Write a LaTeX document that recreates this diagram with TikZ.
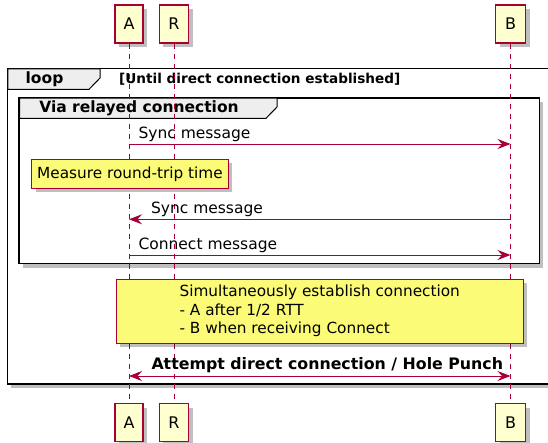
\documentclass[tikz,border=0pt]{standalone}
\usepackage{fontspec}
\setmainfont{DejaVu Sans}
\usepackage{xcolor}
\usepackage{tikz}
\usetikzlibrary{arrows.meta, shadows}
\definecolor{umlred}{HTML}{A80036}
\definecolor{umlbox}{HTML}{FEFECE}
\definecolor{umlnote}{HTML}{FBFB77}
\definecolor{umltab}{HTML}{EEEEEE}
\tikzset{
  umlshadow/.style={
    drop shadow={shadow xshift=4pt, shadow yshift=-4pt,
                 opacity=0.25, fill=black}
  },
  actorbox/.style={
    draw=umlred, fill=umlbox, line width=1.3pt, inner sep=0pt,
    minimum height=38pt, font=\fontsize{16}{18}\selectfont, umlshadow
  },
  lifeline/.style={
    draw=umlred, line width=1pt, dash pattern=on 5pt off 5pt
  },
  msgarrow/.style={
    draw=umlred, line width=1pt,
    -{Stealth[length=13pt, width=10pt, inset=4.5pt]}
  },
  msgboth/.style={
    draw=umlred, line width=1pt,
    {Stealth[length=13pt, width=10pt, inset=4.5pt]}-{Stealth[length=13pt, width=10pt, inset=4.5pt]}
  },
  msglabel/.style={
    font=\fontsize{15.5}{18}\selectfont, anchor=base west, inner sep=0pt
  },
  notebox/.style={
    draw=umlred, fill=umlnote, line width=1pt, inner sep=0pt,
    font=\fontsize{15.3}{18.3}\selectfont, umlshadow
  },
  framebox/.style={
    draw=black, fill=white, line width=1.6pt, umlshadow
  },
  frametab/.style={
    draw=black, fill=umltab, line width=1pt
  },
  framelabel/.style={
    font=\bfseries\fontsize{15.5}{18}\selectfont, inner sep=0pt
  },
  condlabel/.style={
    font=\bfseries\fontsize{13.6}{16}\selectfont, inner sep=0pt, anchor=west
  },
}

\begin{document}
\begin{tikzpicture}[x=1pt, y=-1pt]
  \useasboundingbox (0,0) rectangle (548,442);

  % ── Participants (top and bottom) ─────────────────────────────
  \foreach \n/\x/\w in {A/129/28, R/174/29.5, B/510.5/30} {
    \node[actorbox, minimum width=\w pt] (\n-top) at (\x, 24) {\n};
    \node[actorbox, minimum width=\w pt] (\n-bot) at (\x, 422.5) {\n};
  }

  % ── Loop frame ────────────────────────────────────────────────
  \draw[framebox] (7.3, 68.3) rectangle (562, 384);
  \draw[frametab] (7.8, 68.8) -- (100, 68.8) -- (100, 78)
    -- (89, 89.3) -- (7.8, 89.3) -- cycle;
  \node[framelabel] (looplab) at (44.5, 79) {loop};
  \node[condlabel] (loopcond) at (119, 79.5)
    {[Until direct connection established]};

  % ── Relay group ───────────────────────────────────────────────
  \draw[framebox] (19, 97.7) rectangle (539.3, 263.5);
  \draw[frametab] (19.5, 98.2) -- (277, 98.2) -- (277, 107)
    -- (266, 118.3) -- (19.5, 118.3) -- cycle;
  \node[framelabel] (grouplab) at (139, 108.5) {Via relayed connection};

  % ── Lifelines ─────────────────────────────────────────────────
  \foreach \n in {A, R, B} {
    \draw[lifeline] (\n-top.south) -- (\n-bot.north);
  }

  % ── Messages over the relay ───────────────────────────────────
  \coordinate (ysync) at (0, 144);
  \coordinate (yback) at (0, 219.3);
  \coordinate (yconn) at (0, 255);
  \coordinate (ypunch) at (0, 376);

  \draw[msgarrow] (A-top |- ysync) -- (B-top |- ysync)
    node[msglabel, pos=0, xshift=9pt, yshift=5.5pt] (lsync) {Sync message};

  \node[notebox, minimum width=196.6pt, minimum height=29pt]
    (rttnote) at (130, 173.8) {Measure round-trip time};

  \draw[msgarrow] (B-top |- yback) -- (A-top |- yback)
    node[msglabel, pos=1, xshift=21.5pt, yshift=5.5pt] (lback) {Sync message};

  \draw[msgarrow] (A-top |- yconn) -- (B-top |- yconn)
    node[msglabel, pos=0, xshift=9pt, yshift=5.7pt] (lconn) {Connect message};

  % ── Hole punch ────────────────────────────────────────────────
  \node[notebox, align=left, minimum width=407pt, minimum height=64pt]
    (punchnote) at (319.7, 311)
    {Simultaneously establish connection\\- A after 1/2 RTT\\- B when receiving Connect};

  \draw[msgboth] (A-top |- ypunch) -- (B-top |- ypunch)
    node[msglabel, font=\bfseries\fontsize{15.8}{18}\selectfont,
         pos=0, xshift=22pt, yshift=6.5pt] (lpunch)
    {Attempt direct connection / Hole Punch};
\end{tikzpicture}
\end{document}
